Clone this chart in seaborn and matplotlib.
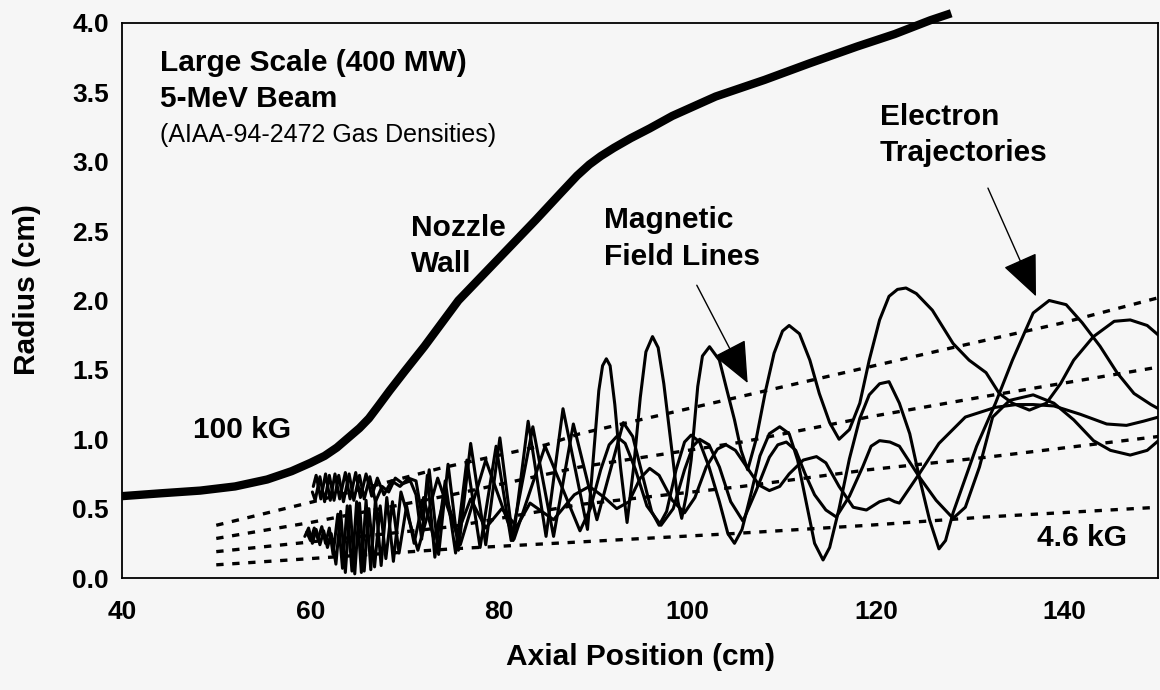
import matplotlib
matplotlib.use('Agg')
import matplotlib.pyplot as plt
import seaborn as sns

# Nozzle wall (axial position cm, radius cm)
wall_x = [40, 44, 48.3, 52, 55.4, 58, 60, 61.5, 62.8, 64, 65.2, 66.2, 67.2, 68.4, 70, 72.1, 75.7, 79.8,
          83.9, 86.5, 88.3, 89.6, 90.8, 92.2, 94, 96, 98.4, 103, 108.2, 113, 118, 122, 125.8, 128]
wall_r = [0.59, 0.61, 0.63, 0.66, 0.71, 0.77, 0.83, 0.88, 0.94, 1.01, 1.08, 1.15, 1.24, 1.35, 1.49, 1.67, 2.0, 2.29,
          2.58, 2.77, 2.90, 2.98, 3.04, 3.10, 3.17, 3.24, 3.33, 3.47, 3.59, 3.71, 3.83, 3.92, 4.02, 4.07]

# Magnetic field lines (dotted)
field1_x = [50, 60.3, 73.7, 85, 88.6, 105.8, 119.2, 127.8, 139.6, 150]
field1_r = [0.38, 0.55, 0.79, 0.96, 1.04, 1.31, 1.52, 1.655, 1.835, 2.02]
field2_x = [50, 60, 75, 88.6, 105.8, 119.2, 131.7, 150]
field2_r = [0.285, 0.40, 0.60, 0.80, 0.98, 1.16, 1.31, 1.52]
field3_x = [50, 60, 75, 88.6, 105.8, 119.2, 131.7, 150]
field3_r = [0.19, 0.26, 0.37, 0.53, 0.66, 0.78, 0.87, 1.02]
field4_x = [50, 60, 75, 88.6, 104.8, 119.2, 131.7, 150]
field4_r = [0.095, 0.14, 0.21, 0.26, 0.32, 0.38, 0.44, 0.51]

# Electron trajectories
trajA_x = [60.3, 60.6, 61.1, 61.6, 62.1, 62.6, 63.1, 63.7, 64.2, 64.8, 65.3, 65.9, 66.5, 67.1, 67.8,
           68.6, 69.5, 70.4, 71.2, 71.9, 72.6, 73.6, 74.6, 75.7, 77.0, 78.6, 80.1, 81.5, 83.1, 85.0,
           86.8, 89.4, 90.0, 90.6, 91.0, 91.4, 91.8, 92.3, 92.9, 93.6, 94.3, 95.0, 95.6, 96.3, 96.9,
           97.5, 98.3, 99.0, 99.4, 99.9, 100.4, 101.1, 101.6, 102.35, 103.4, 104.1, 105.0, 105.7,
           106.4, 107.3, 108.3, 109.2, 110.1, 110.8, 111.9, 113.0, 114.0, 115.1, 116.1, 117.2, 118.3,
           119.3, 120.4, 121.4, 122.3, 123.2, 124.3, 126.0, 128.2, 129.9, 131.7, 133.1, 134.5, 136.3,
           138.1, 139.6, 141.0, 143.1, 145.3, 147.0, 148.8, 150.0]
trajA_r = [0.66, 0.74, 0.57, 0.75, 0.56, 0.75, 0.57, 0.76, 0.57, 0.76, 0.58, 0.75, 0.59, 0.72, 0.60,
           0.70, 0.66, 0.72, 0.70, 0.42, 0.78, 0.17, 0.82, 0.20, 0.97, 0.24, 1.01, 0.27, 1.13, 0.30,
           1.22, 0.35, 0.85, 1.35, 1.53, 1.58, 1.53, 1.25, 0.80, 0.40, 0.80, 1.30, 1.63, 1.74, 1.66,
           1.40, 0.95, 0.55, 0.43, 0.60, 0.85, 1.38, 1.60, 1.667, 1.57, 1.38, 1.14, 0.92,
           0.78, 1.00, 1.35, 1.62, 1.78, 1.82, 1.76, 1.57, 1.33, 1.12, 1.00, 1.07, 1.26,
           1.57, 1.86, 2.03, 2.08, 2.09, 2.05, 1.93, 1.69, 1.57, 1.48, 1.33, 1.26, 1.21,
           1.26, 1.40, 1.57, 1.74, 1.85, 1.86, 1.82, 1.75]

trajC_x = [60.2, 60.5, 61.0, 61.5, 62.0, 62.5, 63.0, 63.5, 64.1, 64.6, 65.2, 65.7, 66.3, 66.9, 67.6,
           68.3, 69.0, 69.8, 70.6, 71.2, 71.8, 72.4, 73.2, 74.3, 75.4, 76.6, 78.0, 79.7, 81.3, 83.6,
           85.8, 87.9, 90.4, 93.2, 94.2, 95.2, 96.2, 97.0, 97.8, 98.8, 99.7, 100.4, 101.3, 102.3,
           103.4, 104.3, 105.0, 105.8, 106.8, 107.7, 108.7, 109.8, 110.8, 111.7, 112.6, 113.5, 114.4,
           115.1, 116.1, 117.2, 118.3, 119.3, 120.4, 121.4, 122.5, 123.6, 124.6, 125.7, 126.7, 127.4,
           128.2, 130.7, 132.7, 134.5, 136.7, 138.4, 140.2, 141.9, 143.8, 145.6, 147.4, 149.2, 150]
trajC_r = [0.62, 0.56, 0.73, 0.55, 0.74, 0.56, 0.74, 0.55, 0.75, 0.56, 0.74, 0.57, 0.73, 0.55, 0.66,
           0.62, 0.72, 0.68, 0.70, 0.60, 0.28, 0.74, 0.15, 0.70, 0.18, 0.85, 0.22, 0.95, 0.27, 1.09,
           0.30, 1.11, 0.42, 1.12, 1.02, 0.75, 0.48, 0.38, 0.48, 0.78, 0.98, 1.03, 0.98, 0.80,
           0.55, 0.32, 0.25, 0.35, 0.62, 0.88, 1.04, 1.09, 1.04, 0.85, 0.55, 0.25, 0.13,
           0.22, 0.50, 0.86, 1.15, 1.32, 1.40, 1.415, 1.26, 1.04, 0.73, 0.42, 0.21, 0.27,
           0.47, 0.95, 1.26, 1.57, 1.91, 2.0, 1.97, 1.84, 1.67, 1.48, 1.33, 1.25, 1.22]

trajD_x = [59.6, 60.0, 60.4, 60.8, 61.2, 61.6, 62.0, 62.4, 62.9, 63.4, 63.9, 64.4, 64.9, 65.4, 65.9,
           66.4, 66.9, 67.5, 68.1, 68.8, 69.6, 71.4, 73.5, 75.9, 78.6, 81.6, 84.9, 88.6, 89.7, 90.8,
           91.7, 92.5, 93.4, 94.5, 95.7, 97.2, 98.5, 99.7, 100.6, 101.3, 102.3, 103.4, 104.6, 105.9,
           107.3, 108.7, 109.6, 110.5, 111.5, 112.5, 113.5, 114.7, 115.8, 117.2, 118.6, 119.5, 120.4,
           121.5, 122.5, 124.6, 126.4, 128.2, 129.5, 131.0, 132.4, 134.2, 136.7, 138.9, 141.0, 143.1,
           144.9, 147.0, 148.8, 150]
trajD_r = [0.33, 0.27, 0.36, 0.28, 0.37, 0.25, 0.36, 0.17, 0.46, 0.07, 0.52, 0.05, 0.55, 0.04, 0.56,
           0.06, 0.57, 0.09, 0.58, 0.12, 0.62, 0.20, 0.72, 0.24, 0.85, 0.28, 0.95, 0.34, 0.50, 0.78,
           0.96, 1.02, 0.97, 0.78, 0.52, 0.38, 0.50, 0.78, 0.95, 1.00, 0.96, 0.80, 0.55, 0.41,
           0.63, 0.87, 0.96, 0.98, 0.92, 0.75, 0.60, 0.49, 0.44, 0.59, 0.80, 0.95, 0.99,
           0.98, 0.95, 0.73, 0.56, 0.43, 0.51, 0.80, 1.16, 1.28, 1.32, 1.26, 1.14, 0.99,
           0.92, 0.886, 0.92, 0.99]

trajE_x = [59.4, 59.8, 60.2, 60.6, 61.0, 61.4, 61.8, 62.2, 62.7, 63.2, 63.7, 64.2, 64.7, 65.2, 65.7,
           66.2, 66.8, 67.4, 68.0, 68.7, 69.4, 70.2, 71.0, 72.0, 73.1, 74.3, 75.6, 77.0, 78.6, 80.3,
           81.9, 83.3, 85.8, 88.0, 89.6, 91.2, 92.5, 93.8, 95.0, 96.0, 97.0, 98.4, 99.7, 100.8, 102.0,
           103.2, 104.1, 105.1, 106.3, 107.6, 108.7, 109.8, 110.8, 112.3, 113.7, 114.7, 116.1, 117.6,
           119.0, 120.4, 121.4, 122.0, 122.5, 124.6, 126.7, 129.5, 132.7, 134.9, 136.7, 138.9, 141.7,
           144.5, 146.6, 148.4, 150]
trajE_r = [0.30, 0.36, 0.25, 0.35, 0.24, 0.34, 0.22, 0.32, 0.10, 0.48, 0.04, 0.52, 0.03, 0.54, 0.05,
           0.50, 0.08, 0.52, 0.14, 0.55, 0.18, 0.52, 0.25, 0.58, 0.28, 0.60, 0.32, 0.57, 0.36, 0.50,
           0.37, 0.54, 0.42, 0.60, 0.66, 0.58, 0.50, 0.55, 0.72, 0.79, 0.74, 0.56, 0.47, 0.58, 0.80,
           0.93, 0.96, 0.92, 0.80, 0.67, 0.63, 0.66, 0.75, 0.85, 0.875, 0.83, 0.66, 0.51,
           0.49, 0.55, 0.57, 0.55, 0.54, 0.75, 0.97, 1.16, 1.23, 1.25, 1.25, 1.24, 1.18,
           1.11, 1.10, 1.13, 1.16]

x_ticks = [40, 60, 80, 100, 120, 140]
y_ticks = [0.0, 0.5, 1.0, 1.5, 2.0, 2.5, 3.0, 3.5, 4.0]

sns.set_theme(style='white')
plt.rcParams['font.family'] = ['Liberation Sans', 'DejaVu Sans']
bg = '#f6f6f6'

fig = plt.figure(figsize=(11.6, 6.9), dpi=100, facecolor=bg)
ax = fig.add_axes([0.1052, 0.1623, 0.8935, 0.8044])
ax.set_facecolor(bg)

# field lines first (behind trajectories)
for fx, fr in [(field1_x, field1_r), (field2_x, field2_r), (field3_x, field3_r), (field4_x, field4_r)]:
    sns.lineplot(x=fx, y=fr, ax=ax, color='black', lw=2.4, linestyle=(0, (2.2, 2.6)),
                 estimator=None, sort=False)

for tx, tr in [(trajA_x, trajA_r), (trajC_x, trajC_r), (trajD_x, trajD_r), (trajE_x, trajE_r)]:
    sns.lineplot(x=tx, y=tr, ax=ax, color='black', lw=2.2, estimator=None, sort=False)

sns.lineplot(x=wall_x, y=wall_r, ax=ax, color='black', lw=6.0, estimator=None, sort=False)
ax.lines[-1].set_clip_on(False)
ax.lines[-1].set_solid_capstyle('butt')

ax.set_xlim(40, 150)
ax.set_ylim(0, 4)
ax.set_xticks(x_ticks)
ax.set_yticks(y_ticks)
ax.set_yticklabels([f'{v:.1f}' for v in y_ticks])
ax.tick_params(axis='both', direction='inout', length=13, width=1.0, color='black',
               labelsize=19, labelcolor='black')
ax.tick_params(axis='y', pad=3)
ax.tick_params(axis='x', pad=9)
for lbl in ax.get_xticklabels() + ax.get_yticklabels():
    lbl.set_fontweight('bold')
for sp in ax.spines.values():
    sp.set_visible(True)
    sp.set_color('black')
    sp.set_linewidth(1.3)

ax.set_xlabel('Axial Position (cm)', fontsize=21.5, fontweight='bold', color='black', labelpad=14)
ax.set_ylabel('Radius (cm)', fontsize=21.5, fontweight='bold', color='black')
ax.yaxis.set_label_coords(-0.078, 0.52)

def px(x, y):
    # pixel position in the figure -> figure fraction
    return x / 1160, 1 - y / 690

bold = dict(fontsize=21.5, fontweight='bold', color='black', va='center', ha='left')
fig.text(*px(160, 63), 'Large Scale (400 MW)', **bold)
fig.text(*px(160, 99), '5-MeV Beam', **bold)
fig.text(*px(160, 135), '(AIAA-94-2472 Gas Densities)', fontsize=18, color='black', va='center', ha='left')
fig.text(*px(411, 228), 'Nozzle', **bold)
fig.text(*px(411, 264), 'Wall', **bold)
fig.text(*px(604, 220), 'Magnetic', **bold)
fig.text(*px(604, 257), 'Field Lines', **bold)
fig.text(*px(880, 117), 'Electron', **bold)
fig.text(*px(880, 153), 'Trajectories', **bold)
fig.text(*px(193, 430), '100 kG', **bold)
fig.text(*px(1037, 538), '4.6 kG', **bold)

arrow = dict(arrowstyle='-|>,head_length=1.15,head_width=0.5', color='black', lw=1.0,
             shrinkA=0, shrinkB=0, mutation_scale=23)
ax.annotate('', xy=(106.4, 1.405), xytext=(101.0, 2.11), arrowprops=arrow)
ax.annotate('', xy=(137.0, 2.03), xytext=(131.9, 2.81), arrowprops=arrow)

fig.savefig('out.png', dpi=100, facecolor=bg)
